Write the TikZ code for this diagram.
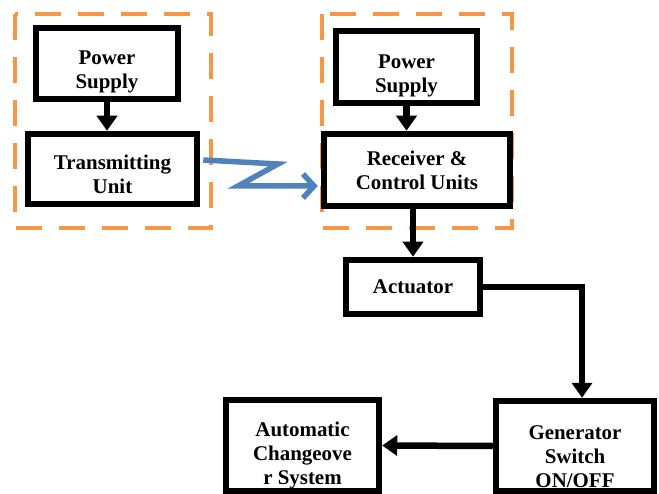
\documentclass[tikz,border=0pt]{standalone}
\usepackage{fontspec}
\setmainfont{Liberation Serif}
\usetikzlibrary{arrows.meta}
\definecolor{dashorange}{RGB}{247,150,70}
\definecolor{linkblue}{RGB}{79,129,189}
\newcommand\textdrop[1]{\rule{0pt}{#1}}
\begin{document}
\begin{tikzpicture}[x=1bp,y=-1bp,
    block/.style={draw,line width=6.5bp,inner sep=0pt,align=center,
                  font=\fontsize{21}{24}\selectfont\bfseries},
    flow/.style={line width=6.5bp,-{Triangle[width=20bp,length=15bp]}},
    group/.style={draw=dashorange,line width=4.5bp,dash pattern=on 26bp off 17bp},
    wireless/.style={draw=linkblue,line width=5.5bp,line join=miter,
                     -{Straight Barb[length=11bp,width=24bp]}}]
    \useasboundingbox (0,0) rectangle (659,494);
    % Zona del transmissor i zona del receptor
    \draw[group] (15,14) rectangle (211,228);
    \draw[group] (322,14) rectangle (512,228);
    % Blocs
    \node[block,minimum width=142bp,minimum height=71bp] (ps1) at (107,63.5) {\textdrop{31bp}Power\\Supply};
    \node[block,minimum width=169bp,minimum height=70bp] (tx) at (112.5,169) {\textdrop{25bp}Transmitting\\Unit};
    \node[block,minimum width=141bp,minimum height=72bp] (ps2) at (406.5,67) {\textdrop{31bp}Power\\Supply};
    \node[block,minimum width=186bp,minimum height=72bp] (rx) at (417,170) {Receiver \&\\Control Units};
    \node[block,minimum width=134bp,minimum height=54bp] (act) at (413,287) {Actuator};
    \node[block,minimum width=158bp,minimum height=90bp] (gen) at (575,446) {\textdrop{35bp}Generator\\Switch\\ON/OFF};
    \node[block,minimum width=153bp,minimum height=91bp] (acs) at (302.5,445.5) {\textdrop{35bp}Automatic\\Changeove\\r System};
    % Fletxes
    \draw[flow] (ps1.south) -- (ps1.south |- tx.north);
    \draw[flow] (ps2.south) -- (ps2.south |- rx.north);
    \draw[flow] (act.north |- rx.south) -- (act.north);
    \draw[flow] (act.east) -| ([xshift=7bp]gen.north);
    \draw[flow] (gen.west) -- (acs.east);
    % Enllac sense fils
    \coordinate (z1) at (278,164);
    \coordinate (z2) at (238,186);
    \draw[wireless] ([xshift=3bp,yshift=9bp]tx.east) -- (z1) -- (z2) -- ([xshift=-3bp,yshift=-16bp]rx.west);
\end{tikzpicture}
\end{document}
